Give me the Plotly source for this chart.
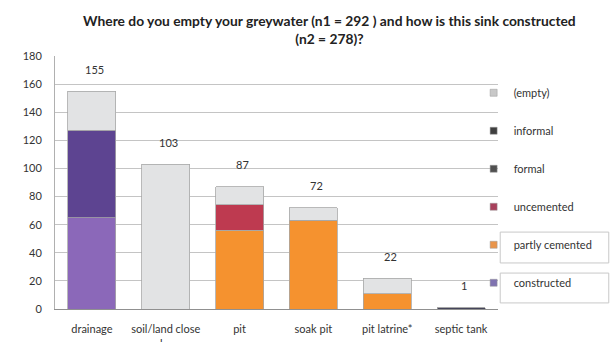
import plotly.graph_objects as go

categories = ["drainage", "soil/land close<br>by", "pit", "soak pit", "pit latrine*", "septic tank"]
totals = [155, 103, 87, 72, 22, 1]

constructed = [65, 0, 0, 0, 0, 0]
partly_cemented = [0, 0, 56, 63, 11, 0]
uncemented = [0, 0, 18, 0, 0, 0]
formal = [0, 0, 0, 0, 0, 1]
informal = [62, 0, 0, 0, 0, 0]
empty = [28, 103, 13, 9, 11, 0]

series = [
    ("constructed", constructed, "#8B68B9", "#7F72B0", 6),
    ("partly cemented", partly_cemented, "#F5922F", "#E9944A", 5),
    ("uncemented", uncemented, "#BE3A50", "#A8405C", 4),
    ("formal", formal, "#45455A", "#505050", 3),
    ("informal", informal, "#5D4491", "#3F3F3F", 2),
    ("(empty)", empty, "#E2E3E4", "#C8C8C8", 1),
]

fig = go.Figure()
for name, vals, color, lcolor, rank in series:
    fig.add_trace(go.Bar(
        x=categories, y=vals, name=name, legendgroup=name, showlegend=False,
        marker=dict(color=color, line=dict(color="#A8A8A8", width=0.8)),
        width=0.65,
    ))
    # legend entry with a small square key
    fig.add_trace(go.Scatter(
        x=[None], y=[None], mode="markers", name=name, legendgroup=name,
        legendrank=rank,
        marker=dict(symbol="square", size=7, color=lcolor,
                    line=dict(color="#999999", width=0.5)),
    ))

for c, t in zip(categories, totals):
    fig.add_annotation(x=c, y=t, text=str(t), showarrow=False, yshift=22,
                       xshift=3, font=dict(size=11, color="#333333"))

# light boxes around two legend entries, as in the reference
for y0, y1 in [(0.182, 0.304), (0.024, 0.142)]:
    fig.add_shape(type="rect", xref="paper", yref="paper",
                  x0=1.005, x1=1.25, y0=y0, y1=y1,
                  line=dict(color="#C8C8C8", width=1), fillcolor="rgba(0,0,0,0)")

fig.update_layout(
    width=610, height=342,
    barmode="stack",
    paper_bgcolor="white", plot_bgcolor="white",
    margin=dict(l=55, r=112, t=56, b=33, autoexpand=False),
    font=dict(family="Lato, Open Sans, sans-serif", size=11, color="#333333"),
    title=dict(
        text="<b>Where do you empty your greywater (n1 = 292 ) and how is this sink constructed<br>(n2 = 278)?</b>",
        x=0.54, xanchor="center", y=0.925, yanchor="top",
        font=dict(size=13.8, color="#222222"),
    ),
    legend=dict(
        x=0.945, xanchor="left", y=0.912, yanchor="top",
        traceorder="grouped", tracegroupgap=19,
        font=dict(size=11, color="#333333"),
        bgcolor="rgba(0,0,0,0)", itemwidth=30,
    ),
    bargap=0.35,
)
fig.update_yaxes(range=[0, 180], dtick=20, showgrid=True, gridcolor="#C4C4C4",
                 gridwidth=1, showline=True, linecolor="#B0B0B0",
                 ticks="", tickfont=dict(size=11), zeroline=False,
                 ticklabelstandoff=10)
fig.update_xaxes(showline=True, linecolor="#909090", ticks="",
                 tickfont=dict(size=11), ticklabelstandoff=10)

fig.write_html("out.html")
